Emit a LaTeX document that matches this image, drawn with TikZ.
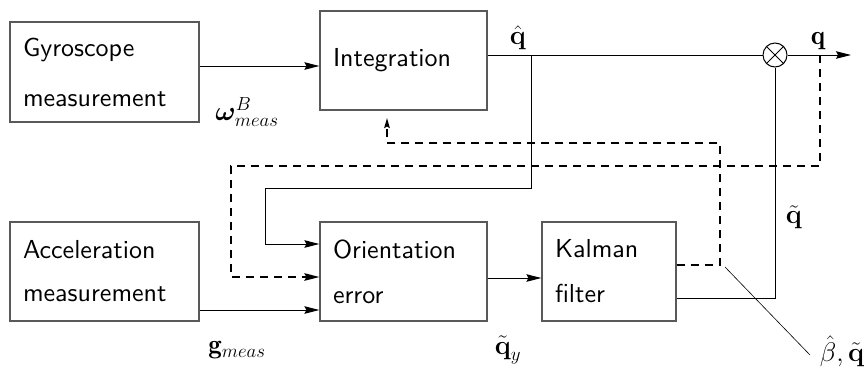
\RequirePackage{fix-cm}
\documentclass[tikz,border=0pt]{standalone}
\usepackage{amsmath,bm}
\usepackage{fontspec}
\newfontfamily\boxfnt{lmsans10-regular.otf}
\usetikzlibrary{arrows.meta}
\tikzset{
  blockbox/.style={draw=black!65, line width=1.2pt, inner xsep=13pt, inner ysep=0pt,
    align=left, font=\boxfnt\fontsize{26}{45}\selectfont},
  link/.style={line width=1pt},
  fb/.style={line width=1.6pt, dash pattern=on 8pt off 6pt},
  tip/.style={-{Stealth[length=15pt,width=7.5pt,inset=2pt]}},
  smalltip/.style={-{Stealth[length=10pt,width=5.5pt,inset=1.5pt]}},
  sym/.style={font=\fontsize{27}{27}\selectfont, inner sep=0pt}
}
\begin{document}
\begin{tikzpicture}[x=1pt,y=-1pt]
\useasboundingbox (0,0) rectangle (866,370);

% processing blocks
\node[blockbox, text width=163pt, minimum height=100pt,
      font=\boxfnt\fontsize{26}{50}\selectfont] (gyro) at (104.5,72) {Gyroscope\\measurement};
\node[blockbox, text width=141pt, minimum height=99pt] (integ) at (403.5,60.5) {Integration};
\node[blockbox, text width=163pt, minimum height=99pt,
      font=\boxfnt\fontsize{26}{43}\selectfont] (acc) at (104.5,271.5) {Acceleration\\measurement};
\node[blockbox, text width=141pt, minimum height=99pt] (orient) at (403.5,271.5) {Orientation\\error};
\node[blockbox, text width=108pt, minimum height=99pt] (kal) at (609,271.5) {Kalman\\filter};

% quaternion product
\node[draw, circle, line width=1pt, minimum size=24pt, inner sep=0pt] (mul) at (775,55) {};
\draw[line width=0.9pt] (mul.north west) -- (mul.south east) (mul.north east) -- (mul.south west);

% free ends and corners
\coordinate (qout) at (851,55);
\coordinate (br) at (531,55);
\coordinate (tap) at (820,55);
\coordinate (fbtip) at (387,118);

% solid signal paths
\draw[link,tip] (gyro.east |- 0,66) -- (integ.west |- 0,66);
\draw[link] (integ.east |- 0,55) -- (mul.west);
\draw[link,tip] (mul.east) -- (qout);
\draw[link,tip] (br) |- (265,188) |- (orient.west |- 0,244);
\draw[link,tip] (acc.east |- 0,310) -- (orient.west |- 0,310);
\draw[link,tip] (orient.east |- 0,278) -- (kal.west |- 0,278);
\draw[link] (kal.east |- 0,298) -| (mul.south);

% dashed feedback paths
\draw[fb,smalltip] (kal.east |- 0,265) -| (720,143) -| (fbtip);
\draw[fb,tip] (tap) |- (231,166) |- (orient.west |- 0,277);

% leader for the filter outputs
\coordinate (lead) at (725,267);
\node[sym] (lbq) at (842,351) {$\hat{\beta},\bm{\tilde{\mathbf{q}}}$};
\draw[line width=0.6pt] (lead) -- (810,355);

% signal labels
\node[sym] (lqhat) at (518,38) {$\bm{\hat{\mathbf{q}}}$};
\node[sym] (lq) at (818,41) {$\mathbf{q}$};
\node[sym] (lw) at (247,112) {$\boldsymbol{\omega}^{B}_{meas}$};
\node[sym] (lg) at (237,350) {$\mathbf{g}_{meas}$};
\node[sym] (lqy) at (508,350) {$\bm{\tilde{\mathbf{q}}}_{y}$};
\node[sym] (lqt) at (794,217) {$\bm{\tilde{\mathbf{q}}}$};
\end{tikzpicture}
\end{document}
